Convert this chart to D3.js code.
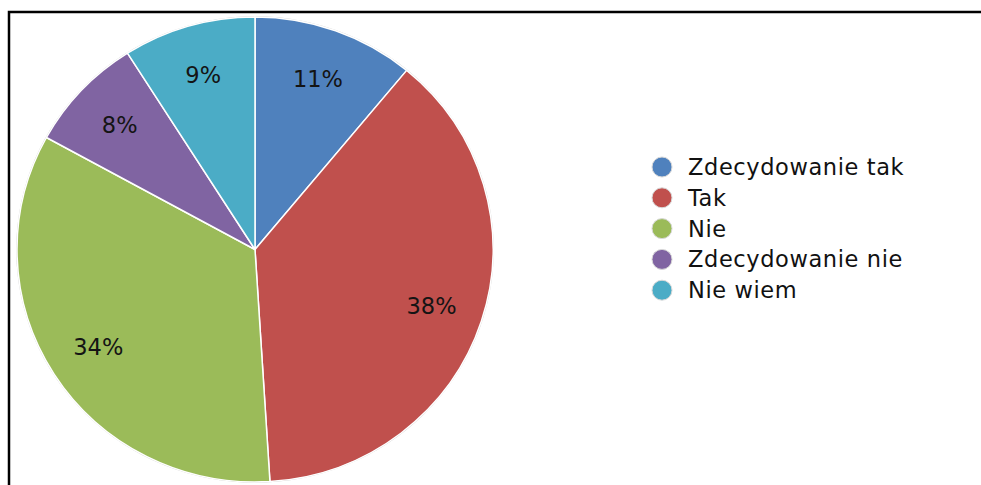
<!DOCTYPE html>
<html><head><meta charset="utf-8">
<script src="https://cdn.jsdelivr.net/npm/d3@7"></script>
<style>html,body{margin:0;padding:0;background:#fff;}svg{display:block;}</style>
</head><body>
<svg id="chart" width="981" height="485"></svg>
<script>
const categories = ["Zdecydowanie tak", "Tak", "Nie", "Zdecydowanie nie", "Nie wiem"];
const values = [11, 38, 34, 8, 9];
const labels = ["11%", "38%", "34%", "8%", "9%"];
const colors = ["#4F81BD", "#C0504D", "#9BBB59", "#8064A2", "#4BACC6"];

const svg = d3.select("#chart");
const W = 981, H = 485;
const cx = 255, cy = 249.5, rx = 238, ry = 232.5;
const font = "'DejaVu Sans', Verdana, sans-serif";

// frame (top and left edges)
svg.append("path")
  .attr("d", `M9,${H} L9,12 L${W},12`)
  .attr("fill", "none").attr("stroke", "#000").attr("stroke-width", 2.5);

const pie = d3.pie().sort(null).value(d => d)(values);
const arc = d3.arc().innerRadius(0).outerRadius(rx);
const labelArc = d3.arc().innerRadius(rx * 0.78).outerRadius(rx * 0.78);

const g = svg.append("g").attr("transform", `translate(${cx},${cy}) scale(1,${ry / rx})`);
g.append("circle").attr("r", rx + 0.8).attr("fill", "#c8c8c8");
g.selectAll("path.slice").data(pie).join("path")
  .attr("class", "slice")
  .attr("d", arc)
  .attr("fill", (d, i) => colors[i])
  .attr("stroke", "#fff").attr("stroke-width", 1.5).attr("stroke-linejoin", "round");

const lg = svg.append("g").attr("transform", `translate(${cx},${cy})`);
lg.selectAll("text").data(pie).join("text")
  .attr("x", d => labelArc.centroid(d)[0])
  .attr("y", d => labelArc.centroid(d)[1] * ry / rx)
  .attr("text-anchor", "middle").attr("dominant-baseline", "central")
  .attr("font-family", font).attr("font-size", 22.5)
  .attr("fill", "#141414")
  .text((d, i) => labels[i]);

const leg = svg.append("g").attr("transform", "translate(662,167)");
const rowH = 30.8;
const items = leg.selectAll("g").data(categories).join("g")
  .attr("transform", (d, i) => `translate(0,${i * rowH})`);
items.append("circle").attr("r", 10)
  .attr("fill", (d, i) => colors[i]).attr("stroke", "#d8d8d8").attr("stroke-width", 1);
items.append("text").attr("x", 26).attr("y", 0)
  .attr("dominant-baseline", "central")
  .attr("font-family", font).attr("font-size", 22.5).attr("letter-spacing", 0.6)
  .attr("fill", "#111")
  .text(d => d);
</script>
</body></html>
